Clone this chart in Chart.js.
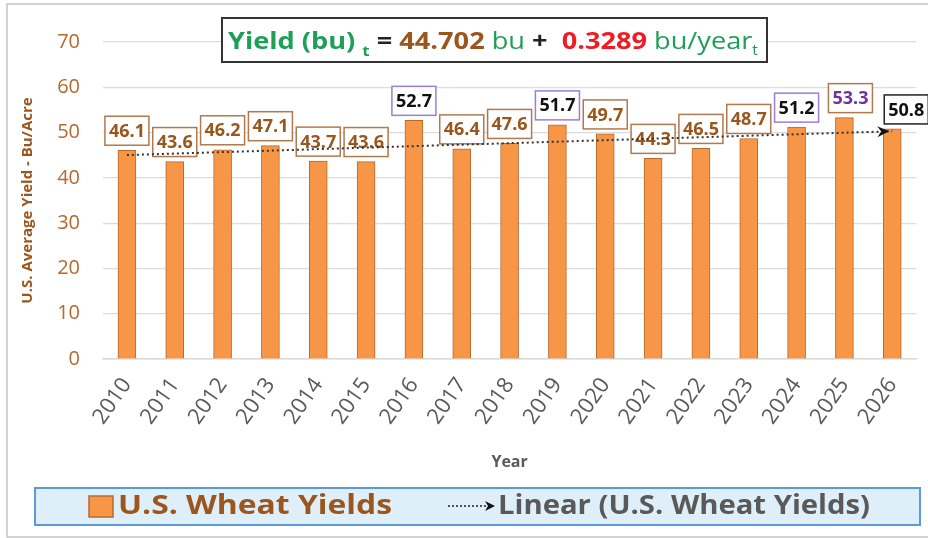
<!DOCTYPE html>
<html>
<head>
<meta charset="utf-8">
<script src="https://cdn.jsdelivr.net/npm/chart.js@4.4.0/dist/chart.umd.min.js"></script>
<style>
  html, body { margin: 0; padding: 0; background: #fff; }
</style>
</head>
<body>
<canvas id="chart" width="928" height="538"></canvas>
<script>
const years = ['2010', '2011', '2012', '2013', '2014', '2015', '2016', '2017', '2018',
  '2019', '2020', '2021', '2022', '2023', '2024', '2025', '2026'];
const yields = [46.1, 43.6, 46.2, 47.1, 43.7, 43.6, 52.7, 46.4, 47.6,
  51.7, 49.7, 44.3, 46.5, 48.7, 51.2, 53.3, 50.8];
const yTicks = [0, 10, 20, 30, 40, 50, 60, 70];
// fitted line: 44.702 + 0.3289 * t, t = 1 (2010) .. 17 (2026)
const trendEnds = [45.03, 50.29];

const BROWN = '#9A561C';
const TICK_BROWN = '#B5692D';
const GREEN = '#1E9F57';
const RED = '#EE1C24';
const PURPLE = '#7030A0';
const GRAY = '#595959';
const ORANGE = '#F79646';

// label box colours per year
const labelLook = {
  base: { text: BROWN, border: '#B07A4E' },
  '2016': { text: '#111', border: '#9A7FD6' },
  '2019': { text: '#111', border: '#9A7FD6' },
  '2024': { text: '#111', border: '#9A7FD6' },
  '2025': { text: PURPLE, border: '#B07A4E', dx: 6 },
  '2026': { text: '#111', border: '#222', dx: 14 },
};

const trendData = years.map((y, i) =>
  i === 0 ? trendEnds[0] : (i === years.length - 1 ? trendEnds[1] : null));

function stretchText(ctx, text, x, y, width) {
  const w = ctx.measureText(text).width;
  ctx.save();
  ctx.translate(x, y);
  ctx.scale(width / w, 1);
  ctx.fillText(text, 0, 0);
  ctx.restore();
}

const frame = {
  id: 'frame',
  beforeDraw(chart) {
    const ctx = chart.ctx;
    ctx.save();
    ctx.fillStyle = '#fff';
    ctx.fillRect(0, 0, chart.width, chart.height);
    ctx.strokeStyle = '#C4C4C4';
    ctx.lineWidth = 1.5;
    ctx.strokeRect(7, 4, chart.width + 20, 533);
    ctx.restore();
  }
};

const valueLabels = {
  id: 'valueLabels',
  beforeDatasetsDraw(chart) {
    const ctx = chart.ctx;
    const bars = chart.getDatasetMeta(0).data;
    ctx.save();
    ctx.font = 'bold 18px "Open Sans"';
    ctx.textAlign = 'center';
    ctx.textBaseline = 'middle';
    bars.forEach((bar, i) => {
      const look = Object.assign({}, labelLook.base, labelLook[years[i]] || {});
      const text = yields[i].toFixed(1);
      const w = ctx.measureText(text).width + 8;
      const h = 29;
      const cx = bar.x + (look.dx || 0);
      const bottom = bar.y - 5;
      ctx.fillStyle = '#fff';
      ctx.fillRect(cx - w / 2, bottom - h, w, h);
      ctx.strokeStyle = look.border;
      ctx.lineWidth = 1.5;
      ctx.strokeRect(cx - w / 2, bottom - h, w, h);
      ctx.fillStyle = look.text;
      ctx.fillText(text, cx, bottom - h / 2 + 1);
    });
    ctx.restore();
  }
};

const trendArrow = {
  id: 'trendArrow',
  afterDatasetsDraw(chart) {
    const pts = chart.getDatasetMeta(1).data;
    const a = pts[0], b = pts[pts.length - 1];
    const ang = Math.atan2(b.y - a.y, b.x - a.x);
    const ctx = chart.ctx;
    ctx.save();
    ctx.translate(b.x - 3, b.y);
    ctx.rotate(ang);
    ctx.fillStyle = '#111';
    ctx.beginPath();
    ctx.moveTo(0, 0);
    ctx.lineTo(-12, -5.5);
    ctx.lineTo(-8, 0);
    ctx.lineTo(-12, 5.5);
    ctx.closePath();
    ctx.fill();
    ctx.restore();
  }
};

const equationAndLegend = {
  id: 'equationAndLegend',
  afterDraw(chart) {
    const ctx = chart.ctx;
    ctx.save();

    // equation box
    ctx.fillStyle = '#fff';
    ctx.fillRect(222, 18, 545, 44);
    ctx.strokeStyle = '#333';
    ctx.lineWidth = 2;
    ctx.strokeRect(222, 18, 545, 44);

    const parts = [
      { t: 'Yield (bu)', c: GREEN, f: 'bold 24px "Open Sans"' },
      { t: ' ', c: GREEN, f: 'bold 24px "Open Sans"' },
      { t: 't', c: GREEN, f: 'bold 15px "Open Sans"', dy: 7 },
      { t: ' = ', c: '#222', f: 'bold 24px "Open Sans"' },
      { t: '44.702', c: BROWN, f: 'bold 24px "Open Sans"' },
      { t: ' bu', c: GREEN, f: '24px "Open Sans"' },
      { t: ' +  ', c: '#222', f: 'bold 24px "Open Sans"' },
      { t: '0.3289', c: RED, f: 'bold 24px "Open Sans"' },
      { t: ' bu/year', c: GREEN, f: '24px "Open Sans"' },
      { t: 't', c: GREEN, f: '14px "Open Sans"', dy: 6 },
    ];
    let total = 0;
    parts.forEach(p => { ctx.font = p.f; p.w = ctx.measureText(p.t).width; total += p.w; });
    ctx.textBaseline = 'alphabetic';
    ctx.textAlign = 'left';
    ctx.translate(228, 49);
    ctx.scale(530 / total, 1);
    let x = 0;
    parts.forEach(p => {
      ctx.font = p.f;
      ctx.fillStyle = p.c;
      ctx.fillText(p.t, x, p.dy || 0);
      x += p.w;
    });
    ctx.restore();

    // legend
    ctx.save();
    ctx.fillStyle = '#DFEFFA';
    ctx.fillRect(35, 488, 885, 37);
    ctx.strokeStyle = '#5B9BD5';
    ctx.lineWidth = 2;
    ctx.strokeRect(35, 488, 885, 37);

    ctx.fillStyle = ORANGE;
    ctx.fillRect(89, 496, 24, 21);
    ctx.strokeStyle = '#B5692D';
    ctx.lineWidth = 1.5;
    ctx.strokeRect(89, 496, 24, 21);

    ctx.font = 'bold 26px "Open Sans"';
    ctx.textBaseline = 'middle';
    ctx.fillStyle = BROWN;
    stretchText(ctx, 'U.S. Wheat Yields', 118, 507, 274);

    ctx.strokeStyle = '#222';
    ctx.lineWidth = 1.5;
    ctx.setLineDash([2, 2]);
    ctx.beginPath();
    ctx.moveTo(448, 506);
    ctx.lineTo(486, 506);
    ctx.stroke();
    ctx.setLineDash([]);
    ctx.fillStyle = '#111';
    ctx.beginPath();
    ctx.moveTo(495, 506);
    ctx.lineTo(485, 501);
    ctx.lineTo(488, 506);
    ctx.lineTo(485, 511);
    ctx.closePath();
    ctx.fill();

    ctx.fillStyle = GRAY;
    stretchText(ctx, 'Linear (U.S. Wheat Yields)', 498, 507, 372);
    ctx.restore();
  }
};

new Chart(document.getElementById('chart'), {
  data: {
    labels: years,
    datasets: [
      {
        type: 'bar',
        label: 'U.S. Wheat Yields',
        data: yields,
        backgroundColor: ORANGE,
        borderColor: '#B5692D',
        borderWidth: 1,
        barThickness: 18,
        order: 1,
      },
      {
        type: 'line',
        label: 'Linear (U.S. Wheat Yields)',
        data: trendData,
        spanGaps: true,
        borderColor: '#333',
        borderWidth: 2,
        borderDash: [2, 3],
        pointRadius: 0,
        order: 0,
      },
    ],
  },
  options: {
    responsive: false,
    animation: false,
    layout: { padding: { left: 8, right: 4, top: 42, bottom: 66 } },
    plugins: {
      legend: { display: false },
      tooltip: { enabled: false },
    },
    scales: {
      x: {
        grid: { display: false, drawTicks: false },
        border: { display: true, color: '#D9D9D9', width: 1.5 },
        ticks: {
          color: GRAY,
          font: { family: 'Open Sans', size: 22 },
          minRotation: 55,
          maxRotation: 55,
          padding: 14,
        },
        title: {
          display: true,
          text: 'Year',
          color: GRAY,
          font: { family: 'Open Sans', size: 16, weight: 'bold' },
          padding: { top: 0, bottom: 0 },
        },
        afterFit(scale) { scale.height = 113; },
      },
      y: {
        min: 0,
        max: 70,
        afterBuildTicks(scale) { scale.ticks = yTicks.map(v => ({ value: v })); },
        grid: { color: '#DCDCDC', lineWidth: 1.2, drawTicks: false },
        border: { display: false },
        ticks: {
          color: TICK_BROWN,
          font: { family: 'Open Sans', size: 20 },
          padding: 23,
        },
        title: {
          display: true,
          text: 'U.S. Average Yield - Bu/Acre',
          color: BROWN,
          font: { family: 'Open Sans', size: 15, weight: 'bold' },
          padding: { top: 11, bottom: 0 },
        },
        afterFit(scale) { scale.width = 95; },
      },
    },
  },
  plugins: [frame, valueLabels, trendArrow, equationAndLegend],
});
</script>
</body>
</html>
